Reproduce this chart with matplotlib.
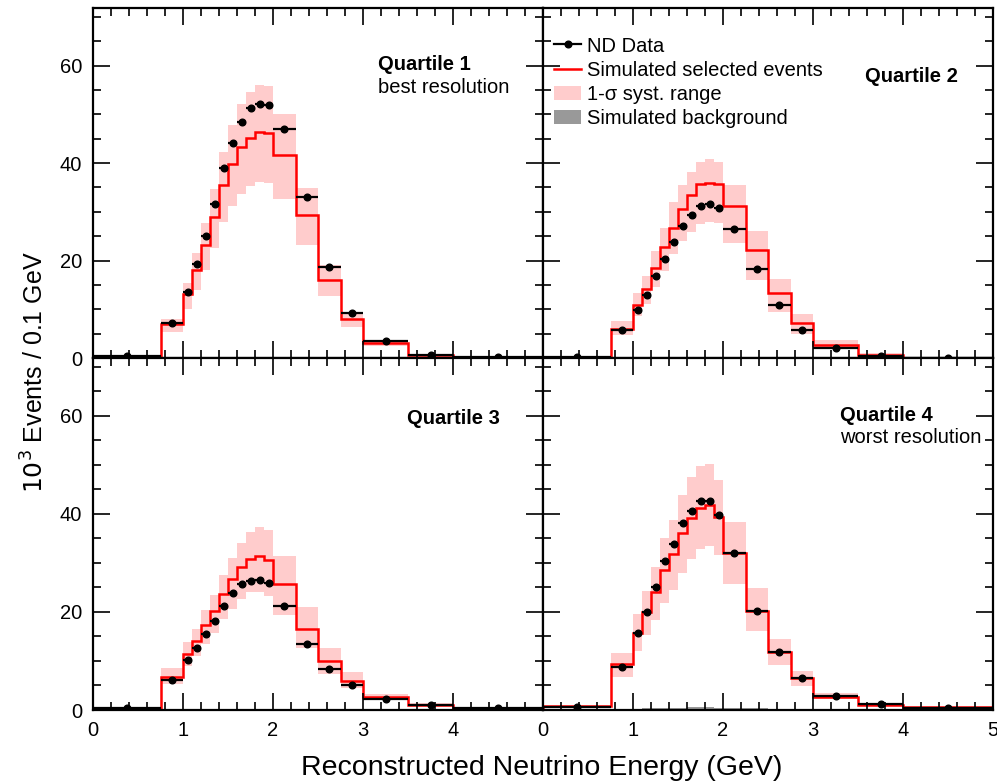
"""ND reconstructed neutrino energy spectra, one panel per resolution quartile"""
import numpy as np
import matplotlib.pyplot as plt
from matplotlib.lines import Line2D
from matplotlib.patches import Patch
from matplotlib.ticker import MultipleLocator

plt.rcParams['font.family'] = ['Liberation Sans', 'DejaVu Sans']

# bin edges (GeV) -- variable binning
edges = [0, 0.75, 1.0, 1.1, 1.2, 1.3, 1.4, 1.5, 1.6, 1.7, 1.8, 1.9, 2.0,
         2.25, 2.5, 2.75, 3.0, 3.5, 4.0, 5.0]

# 10^3 events / 0.1 GeV
data_q1 = [0.35, 7.1, 13.6, 19.3, 25.0, 31.5, 38.9, 44.1, 48.5, 51.2, 52.2, 52.0, 46.9, 33.1, 18.6, 9.3, 3.4, 0.7, 0.15]
mc_q1 = [0.5, 7.0, 13.1, 18.1, 23.2, 29.0, 35.4, 39.8, 43.3, 45.2, 46.4, 46.1, 41.7, 29.3, 16.1, 8.0, 3.1, 0.6, 0.05]
hi_q1 = [0.6, 8.1, 15.3, 21.5, 27.6, 34.7, 42.2, 47.8, 52.2, 54.6, 56.1, 55.9, 50.1, 34.8, 19.0, 9.5, 3.7, 0.8, 0.1]
lo_q1 = [0.4, 5.4, 10.1, 14.0, 18.1, 22.6, 27.8, 31.2, 33.7, 35.2, 36.2, 35.9, 32.7, 23.1, 12.8, 6.3, 2.5, 0.45, 0.03]
bkg_q1 = [0.02, 0.04, 0.06, 0.08, 0.1, 0.1, 0.11, 0.12, 0.12, 0.12, 0.12, 0.11, 0.1, 0.08, 0.06, 0.04, 0.03, 0.02, 0.01]

data_q2 = [0.2, 5.8, 9.8, 12.9, 16.9, 20.4, 23.7, 27.1, 29.4, 31.1, 31.6, 30.7, 26.5, 18.2, 10.9, 5.7, 2.0, 0.5, 0.07]
mc_q2 = [0.15, 5.9, 10.9, 14.1, 18.4, 22.7, 26.7, 30.6, 33.4, 35.6, 36.0, 35.6, 31.2, 22.1, 13.3, 7.2, 2.7, 0.7, 0.1]
hi_q2 = [0.25, 7.6, 13.4, 16.9, 22.0, 26.6, 32.0, 35.4, 38.2, 40.3, 40.8, 40.2, 35.5, 26.0, 16.3, 9.0, 3.7, 1.0, 0.15]
lo_q2 = [0.1, 4.7, 8.6, 11.1, 14.6, 17.8, 21.4, 24.1, 25.9, 27.5, 27.9, 27.7, 23.6, 16.1, 9.4, 4.9, 1.8, 0.3, 0.05]
bkg_q2 = [0.02, 0.05, 0.08, 0.1, 0.12, 0.13, 0.14, 0.15, 0.15, 0.15, 0.15, 0.14, 0.13, 0.1, 0.08, 0.05, 0.03, 0.02, 0.01]

data_q3 = [0.5, 6.2, 10.1, 12.7, 15.6, 18.2, 21.3, 23.9, 25.7, 26.3, 26.6, 26.0, 21.2, 13.4, 8.3, 5.1, 2.3, 1.0, 0.4]
mc_q3 = [0.3, 6.8, 11.5, 14.1, 17.3, 20.1, 23.7, 26.7, 29.1, 30.9, 31.4, 30.6, 25.8, 16.5, 10.0, 5.9, 2.6, 1.1, 0.5]
hi_q3 = [0.4, 8.5, 13.8, 16.5, 20.3, 23.4, 27.6, 31.1, 34.1, 36.3, 37.4, 36.8, 31.4, 21.0, 12.7, 7.8, 3.3, 1.4, 0.6]
lo_q3 = [0.2, 5.3, 9.0, 11.1, 13.5, 15.8, 18.6, 20.7, 22.7, 24.0, 24.0, 23.3, 19.4, 12.6, 7.4, 4.4, 2.0, 0.8, 0.35]
bkg_q3 = [0.03, 0.08, 0.12, 0.15, 0.18, 0.2, 0.22, 0.23, 0.24, 0.24, 0.24, 0.23, 0.2, 0.16, 0.12, 0.08, 0.05, 0.03, 0.02]

data_q4 = [0.7, 8.8, 15.7, 19.9, 25.0, 30.3, 33.9, 38.1, 40.6, 42.7, 42.7, 39.8, 32.1, 20.2, 11.9, 6.5, 2.8, 1.2, 0.5]
mc_q4 = [0.75, 9.3, 15.7, 19.9, 24.0, 28.6, 31.8, 36.1, 39.1, 41.3, 41.9, 39.3, 32.1, 20.2, 11.9, 6.5, 2.7, 1.1, 0.6]
hi_q4 = [0.9, 11.6, 19.6, 24.2, 29.2, 35.0, 38.8, 43.9, 47.6, 49.8, 50.2, 47.0, 38.4, 24.8, 14.4, 8.0, 3.4, 1.4, 0.7]
lo_q4 = [0.6, 6.7, 12.1, 15.2, 18.4, 21.9, 24.5, 28.0, 30.9, 32.9, 33.5, 31.6, 25.8, 16.1, 9.2, 4.8, 2.3, 0.9, 0.4]
bkg_q4 = [0.1, 0.2, 0.3, 0.35, 0.4, 0.45, 0.5, 0.5, 0.55, 0.55, 0.55, 0.5, 0.45, 0.35, 0.25, 0.15, 0.08, 0.04, 0.02]

data_yerr = 0.3

quartiles = [
    ("Quartile 1", "best resolution", data_q1, mc_q1, hi_q1, lo_q1, bkg_q1),
    ("Quartile 2", None, data_q2, mc_q2, hi_q2, lo_q2, bkg_q2),
    ("Quartile 3", None, data_q3, mc_q3, hi_q3, lo_q3, bkg_q3),
    ("Quartile 4", "worst resolution", data_q4, mc_q4, hi_q4, lo_q4, bkg_q4),
]
# label anchor (axes fraction) for each panel
label_pos = [(0.633, 0.838), (0.716, 0.804), (0.697, 0.829), (0.66, 0.838)]

BAND = '#ffcccc'
BKG = '#999999'
FS = 14.5

W, H = 997, 782
fig = plt.figure(figsize=(W / 100, H / 100), dpi=100)

# axes boxes in pixels: x0, x1, ytop, ybottom
boxes = [(93, 543, 8, 358), (543, 993, 8, 358),
         (93, 543, 358, 710), (543, 993, 358, 710)]

e = np.array(edges)
centers = 0.5 * (e[1:] + e[:-1])
halfw = 0.5 * (e[1:] - e[:-1])

axes = []
for i, (x0, x1, yt, yb) in enumerate(boxes):
    ax = fig.add_axes([x0 / W, 1 - yb / H, (x1 - x0) / W, (yb - yt) / H])
    name, sub, data, mc, hi, lo, bkg = quartiles[i]

    ax.stairs(hi, edges, baseline=lo, fill=True, color=BAND, lw=0)
    ax.stairs(bkg, edges, baseline=0, fill=True, color=BKG, lw=0)
    ax.stairs(mc, edges, color='red', lw=1.8)
    ax.errorbar(centers, data, xerr=halfw, yerr=data_yerr, fmt='o', color='k',
                ms=4.8, lw=1.6, capsize=0)

    ax.set_xlim(0, 5)
    ax.set_ylim(0, 71.8)
    ax.xaxis.set_major_locator(MultipleLocator(1))
    ax.xaxis.set_minor_locator(MultipleLocator(0.2))
    ax.yaxis.set_major_locator(MultipleLocator(20))
    ax.yaxis.set_minor_locator(MultipleLocator(5))
    ax.tick_params(which='both', direction='in', top=True, right=True,
                   width=1.2, labelsize=14.5, pad=8)
    ax.tick_params(which='major', length=12)
    ax.tick_params(which='minor', length=6)
    for s in ax.spines.values():
        s.set_linewidth(1.6)

    if i in (1, 3):
        ax.tick_params(labelleft=False)
    if i in (0, 1):
        ax.tick_params(labelbottom=False)
    if i == 2:
        ax.set_xticks([0, 1, 2, 3, 4])
        ax.xaxis.set_minor_locator(MultipleLocator(0.2))

    tx, ty = label_pos[i]
    ax.text(tx, ty, name, transform=ax.transAxes, fontsize=FS,
            fontweight='bold', va='center', ha='left')
    if sub:
        ax.text(tx, ty - 0.064, sub, transform=ax.transAxes, fontsize=FS,
                va='center', ha='left')
    axes.append(ax)

handles = [
    Line2D([], [], color='k', marker='o', ms=4.8, lw=1.6),
    Line2D([], [], color='red', lw=1.8),
    Patch(facecolor=BAND, edgecolor='none'),
    Patch(facecolor=BKG, edgecolor='none'),
]
labels = ["ND Data", "Simulated selected events", "1-σ syst. range",
          "Simulated background"]
axes[1].legend(handles, labels, loc='upper left', bbox_to_anchor=(-0.002, 0.953),
               frameon=False, fontsize=FS, handlelength=1.35, handletextpad=0.3,
               labelspacing=0.26, borderaxespad=0.2)

fig.text(35 / W, 1 - 372 / H, r"$10^3$ Events / 0.1 GeV", rotation=90,
         ha='center', va='center', fontsize=18)
fig.text(542 / W, 1 - 768 / H, "Reconstructed Neutrino Energy (GeV)",
         ha='center', va='center', fontsize=20.5)

fig.savefig('out.png', dpi=100)
